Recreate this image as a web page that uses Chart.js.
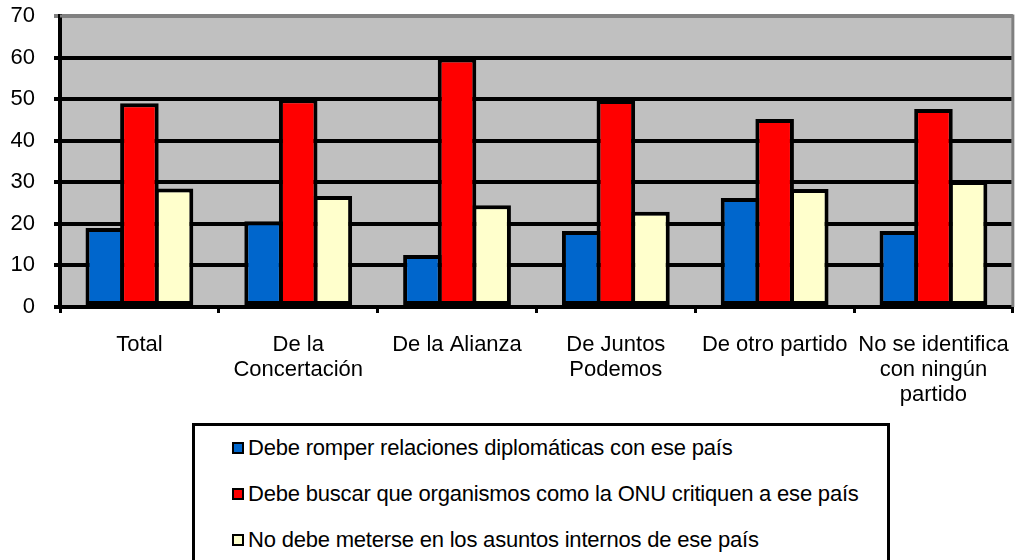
<!DOCTYPE html>
<html>
<head>
<meta charset="utf-8">
<script src="https://cdn.jsdelivr.net/npm/chart.js@4.4.0/dist/chart.umd.min.js"></script>
<style>
body{margin:0;background:#fff;font-family:"Liberation Sans",Arial,sans-serif;}
#wrap{position:relative;width:1028px;height:560px;overflow:hidden;}
#legend{position:absolute;left:192px;top:423px;width:692px;height:170px;border:3px solid #000;box-sizing:content-box;}
.item{position:absolute;left:37px;font-size:22px;line-height:24px;color:#000;white-space:nowrap;letter-spacing:-0.2px;}
.sw{display:inline-block;width:8px;height:8px;border:2px solid #000;margin-right:4px;vertical-align:1px;}
</style>
</head>
<body>
<div id="wrap">
<canvas id="graph" width="1028" height="420"></canvas>
<div id="legend"></div>
</div>
<script>
// categories (multi-line labels as in the original)
const categories=[["Total"],["De la","Concertación"],["De la Alianza"],["De Juntos","Podemos"],["De otro partido"],["No se identifica","con ningún","partido"]]
const seriesNames=["Debe romper relaciones diplomáticas con ese país","Debe buscar que organismos como la ONU critiquen a ese país","No debe meterse en los asuntos internos de ese país"]
const romper=[19,20.6,12.5,18.3,26.2,18.3]
const criticar=[49,50,59.8,49.8,45.2,47.6]
const noMeterse=[28.5,26.7,24.5,22.9,28.4,30.3]
const yTicks=[0,10,20,30,40,50,60,70]
const colors=["#0066CC","#FF0000","#FFFFCC"]

const FONT='"Liberation Sans", Arial, sans-serif'

// gray plot background + gray top/right border like the Excel chart
const plotBg={
    id:'plotBg',
    beforeDraw(chart){
        const a=chart.chartArea, c=chart.ctx
        c.save()
        c.fillStyle='#C0C0C0'
        c.fillRect(a.left,a.top,a.right-a.left,a.bottom-a.top)
        c.restore()
    },
    afterDraw(chart){
        const a=chart.chartArea, c=chart.ctx
        c.save()
        c.strokeStyle='#808080'
        c.lineWidth=3
        c.beginPath()
        c.moveTo(a.left,a.top)
        c.lineTo(a.right,a.top)
        c.lineTo(a.right,a.bottom)
        c.stroke()
        c.restore()
    }
}

new Chart("graph",{
    type:"bar",
    data:{
        labels:categories,
        datasets:[romper,criticar,noMeterse].map((d,i)=>({
            label:seriesNames[i],
            data:d,
            backgroundColor:colors[i],
            borderColor:"#000",
            borderWidth:4,
            borderSkipped:false,
            categoryPercentage:0.654,
            barPercentage:1.114
        }))
    },
    options:{
        responsive:false,
        animation:false,
        layout:{padding:{top:16,right:4,left:0,bottom:0}},
        plugins:{
            legend:{display:false},
            tooltip:{enabled:false}
        },
        scales:{
            x:{
                grid:{display:true,offset:true,drawOnChartArea:false,color:"#000",lineWidth:3,tickLength:6},
                border:{display:true,color:"#000",width:4},
                ticks:{color:"#000",font:{family:FONT,size:22,lineHeight:1.15},padding:19,maxRotation:0,autoSkip:false},
                afterFit(s){s.height=113}
            },
            y:{
                min:0,max:70,
                afterBuildTicks(s){s.ticks=yTicks.map(v=>({value:v}))},
                grid:{color:(ctx)=>ctx.tick && ctx.tick.value===70?"#808080":"#000",lineWidth:4,tickLength:6},
                border:{display:true,color:"#000",width:4},
                ticks:{color:"#000",font:{family:FONT,size:22},padding:19},
                // keep the plot area where the original has it
                afterFit(s){s.width=60;s.paddingTop=0;s.paddingBottom=0}
            }
        }
    },
    plugins:[plotBg]
})

// legend box (vertical, left aligned)
const lg=document.getElementById('legend')
seriesNames.forEach((n,i)=>{
    const d=document.createElement('div')
    d.className='item'
    d.style.top=(10+i*46)+'px'
    d.innerHTML='<span class="sw" style="background:'+colors[i]+'"></span>'+n
    lg.append(d)
})
</script>
</body>
</html>
